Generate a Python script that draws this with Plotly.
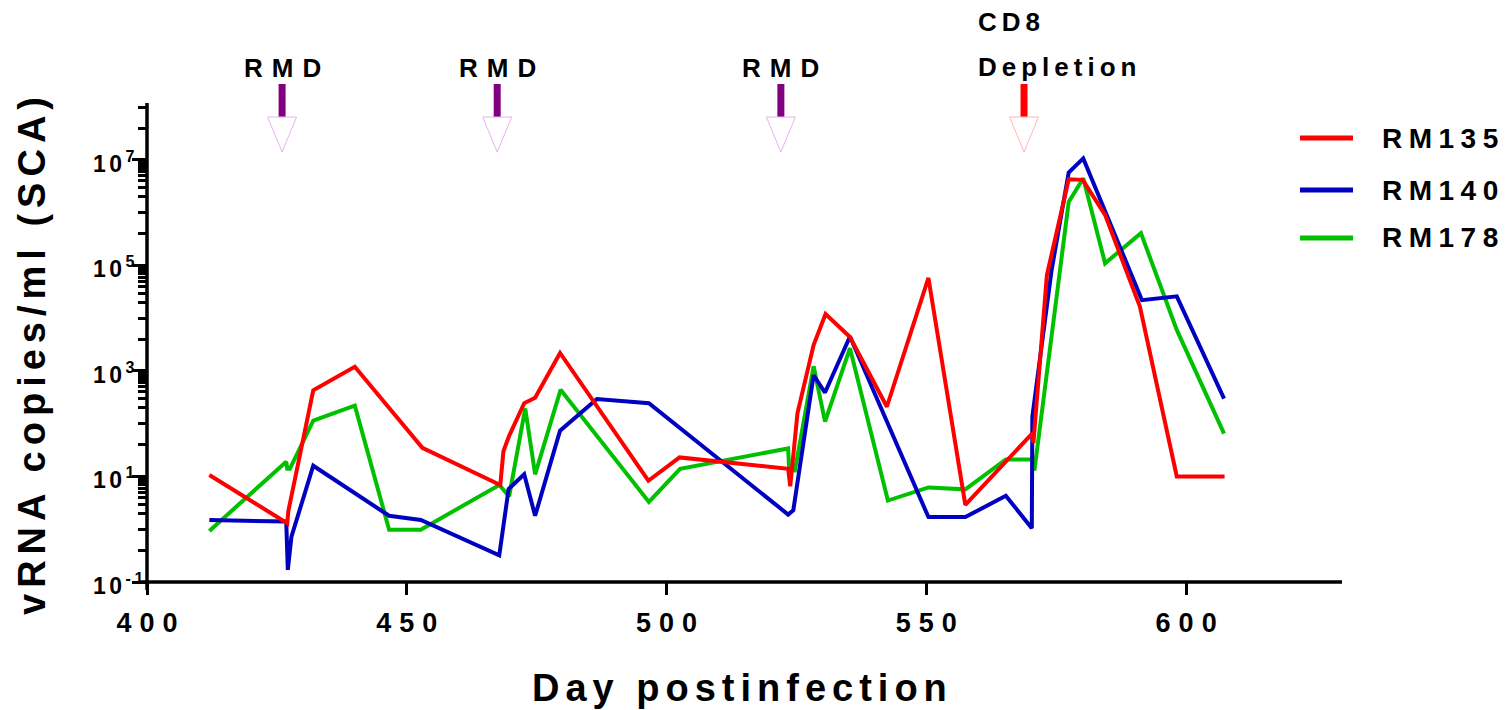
import math
import plotly.graph_objects as go

# ---------------- data ----------------
rm135_days = [412, 427, 427.2, 432, 440, 453, 468, 468.6, 469.7, 472.6, 474.7, 479.5,
              496.5, 502.5, 523.4, 523.8, 525.2, 528.3, 530.6, 535.3, 542.4, 550.4,
              557.5, 570.4, 570.6, 573.2, 577.4, 580.1, 584.4, 591.1, 598.2, 607.4]
rm135_vals = [10.7, 1.3, 2.2, 430, 1200, 35, 6.9, 30, 59, 245, 310, 2200,
              8.3, 23, 14, 6.5, 160, 3100, 12000, 4400, 210, 58000,
              2.9, 66, 43, 66000, 4.3e6, 4.2e6, 9.1e5, 16600, 10, 10]

rm140_days = [412, 426.8, 427.1, 427.8, 432, 446.6, 452.7, 467.8, 469.6, 472.6, 474.7,
              479.5, 486.6, 496.6, 523.4, 524.4, 528.3, 530.5, 535.3, 550.4, 557.5,
              565.3, 570.3, 570.4, 574.1, 577.4, 580.2, 591.5, 598.2, 607.3]
rm140_vals = [1.5, 1.4, 0.17, 0.72, 16, 1.8, 1.5, 0.32, 5.8, 11, 1.8,
              74, 295, 245, 1.9, 2.3, 830, 390, 4500, 1.7, 1.7,
              4.3, 1.05, 135, 81000, 5.8e6, 1.07e7, 22000, 26000, 300]

rm178_days = [412, 426.8, 427, 427.5, 432, 440, 446.6, 452.7, 467.8, 469.7, 472.8,
              474.7, 479.6, 496.6, 502.6, 523.4, 523.6, 524.7, 528.3, 530.5, 535.3,
              542.6, 550.4, 557.5, 565.3, 570.3, 570.8, 577.4, 580.2, 584.4, 591.3,
              598.2, 607.3]
rm178_vals = [0.93, 19, 14, 14, 115, 220, 0.98, 0.98, 6.9, 4.2, 195,
              11, 440, 3.3, 14, 34, 13, 13, 1230, 110, 2700,
              3.5, 6.2, 5.7, 21, 21, 13, 1.6e6, 4.5e6, 1.1e5, 4.1e5,
              6000, 65]

rmd_days = [426, 467.4, 522]
cd8_days = [568.8]

y_tickvals = [0.1, 10, 1e3, 1e5, 1e7]
y_ticktext = ["10<sup>-1</sup>", "10<sup>1</sup>", "10<sup>3</sup>", "10<sup>5</sup>", "10<sup>7</sup>"]
x_tickvals = [400, 450, 500, 550, 600]

# ---------------- layout geometry ----------------
W, H = 1509, 710
ML, MR, MT, MB = 147, 167, 103, 128
X_RANGE = [400, 630]
Y_RANGE = [-1, 8.08]
plot_h = H - MT - MB
plot_w = W - ML - MR
FONT = "Liberation Sans, Arial, sans-serif"


def py(ypx):
    """pixel row -> paper y"""
    return (H - MB - ypx) / plot_h


def px(xpx):
    return (xpx - ML) / plot_w


days_per_px = (X_RANGE[1] - X_RANGE[0]) / plot_w

fig = go.Figure()
# drawn green, blue, red (red on top); legend lists red, blue, green
series = [
    ("RM178", rm178_days, rm178_vals, "#00C000", 3),
    ("RM140", rm140_days, rm140_vals, "#0000C0", 2),
    ("RM135", rm135_days, rm135_vals, "#FF0000", 1),
]
for name, d, v, c, rank in series:
    fig.add_trace(go.Scatter(x=d, y=v, mode="lines", name=name, legendrank=rank,
                             line=dict(color=c, width=4), showlegend=False))

# minor tick positions on the log axis
minor_vals = []
for e in [0, 2, 4, 6]:
    minor_vals += [m * 10 ** e for m in range(1, 10)]
for e in [-1, 1, 3, 5, 7]:
    minor_vals.append(4 * 10 ** e)
minor_vals.append(1e8)

fig.update_layout(
    width=W, height=H,
    margin=dict(l=ML, r=MR, t=MT, b=MB, pad=0),
    paper_bgcolor="white", plot_bgcolor="white",
    font=dict(family=FONT, color="black", size=24, weight="bold"),
    showlegend=False,
    xaxis=dict(range=X_RANGE, tickvals=x_tickvals, ticks="outside", ticklen=12,
               tickwidth=3, tickcolor="black", showline=False, showgrid=False,
               zeroline=False, ticklabelstandoff=5,
               tickfont=dict(size=27, family=FONT, weight="bold")),
    yaxis=dict(type="log", range=Y_RANGE, tickvals=y_tickvals, showticklabels=False,
               ticks="outside", ticklen=14, tickwidth=3, tickcolor="black",
               showline=False, showgrid=False, zeroline=False,
               minor=dict(tickvals=minor_vals, ticks="outside", ticklen=8,
                          tickwidth=2.5, tickcolor="black", showgrid=False)),
)

# y tick labels (left aligned, Prism style)
for v, t in zip(y_tickvals, y_ticktext):
    fig.add_annotation(x=px(91), y=math.log10(v), xref="paper", yref="y", text=t,
                       showarrow=False, xanchor="left", yanchor="middle", align="left",
                       width=70, yshift=-2, font=dict(size=23, family=FONT, weight="bold"))

# axis lines (Prism style, slightly crossing)
fig.add_shape(type="line", xref="paper", yref="paper", x0=px(140), x1=1, y0=0, y1=0,
              line=dict(color="black", width=3.5))
fig.add_shape(type="line", xref="paper", yref="paper", x0=0, x1=0, y0=py(590), y1=1,
              line=dict(color="black", width=3.5))

# legend (drawn by hand to get the long sample lines)
legend_rows = [138, 190, 238]
for (name, d, v, c, rank), row in zip(sorted(series, key=lambda s: s[4]), legend_rows):
    fig.add_shape(type="line", xref="paper", yref="paper", x0=px(1300), x1=px(1353),
                  y0=py(row), y1=py(row), line=dict(color=c, width=5))
    fig.add_annotation(x=px(1380), y=py(row), xref="paper", yref="paper", text=name,
                       showarrow=False, xanchor="left", yanchor="middle", align="left",
                       width=160, font=dict(size=28, family=FONT, weight="bold"))

# treatment arrows
half_w = 14.5 * days_per_px


def arrow(day, stem_color, tri_color):
    fig.add_shape(type="line", xref="x", yref="paper", x0=day, x1=day,
                  y0=py(117), y1=py(84), line=dict(color=stem_color, width=7))
    fig.add_shape(type="path", xref="x", yref="paper",
                  path=f"M {day - half_w},{py(117)} L {day + half_w},{py(117)} L {day},{py(152)} Z",
                  line=dict(color=tri_color, width=1), fillcolor="rgba(0,0,0,0)")


for d in rmd_days:
    arrow(d, "#800080", "#E4B4EC")
    fig.add_annotation(x=d, y=py(68), xref="x", yref="paper", text="RMD",
                       showarrow=False, xanchor="center", yanchor="middle",
                       font=dict(size=26, family=FONT, weight="bold"))
for d in cd8_days:
    arrow(d, "#FF0000", "#FFB4B4")
    fig.add_annotation(x=px(976), y=py(22), xref="paper", yref="paper", text="CD8",
                       showarrow=False, xanchor="left", yanchor="middle", align="left",
                       width=200, font=dict(size=26, family=FONT, weight="bold"))
    fig.add_annotation(x=px(976), y=py(67), xref="paper", yref="paper", text="Depletion",
                       showarrow=False, xanchor="left", yanchor="middle", align="left",
                       width=200, font=dict(size=26, family=FONT, weight="bold"))

# axis titles
fig.add_annotation(x=px(739), y=py(688), xref="paper", yref="paper",
                   text="Day postinfection", showarrow=False,
                   xanchor="center", yanchor="middle",
                   font=dict(size=38, family=FONT, weight="bold"))
fig.add_annotation(x=px(32), y=py(356), xref="paper", yref="paper",
                   text="vRNA copies/ml (SCA)", showarrow=False, textangle=-90,
                   xanchor="center", yanchor="middle",
                   font=dict(size=38, family=FONT, weight="bold"))

post = """
var gd = document.getElementById('{plot_id}');
function spaceText(){
  gd.querySelectorAll('text').forEach(function(t){
    if (t.textContent.trim() === '') { t.parentNode.removeChild(t); }
  });
  gd.querySelectorAll('.xtick text').forEach(function(t){
    t.style.letterSpacing = '8px'; t.setAttribute('dx', '4');
  });
  gd.querySelectorAll('.annotation-text').forEach(function(t){
    var s = t.textContent, ls = 5;
    if (s === 'RMD') { ls = 9; t.setAttribute('dx', '4.5'); }
    else if (s.indexOf('RM') === 0) { ls = 6.5; }
    else if (s.indexOf('10') === 0) { ls = 3.5; }
    else if (s.length > 12) { ls = 6; t.setAttribute('dx', '3'); }
    t.style.letterSpacing = ls + 'px';
  });
}
spaceText();
gd.on('plotly_afterplot', spaceText);
"""

fig.write_html("out.html", post_script=post, config={"displayModeBar": False})
